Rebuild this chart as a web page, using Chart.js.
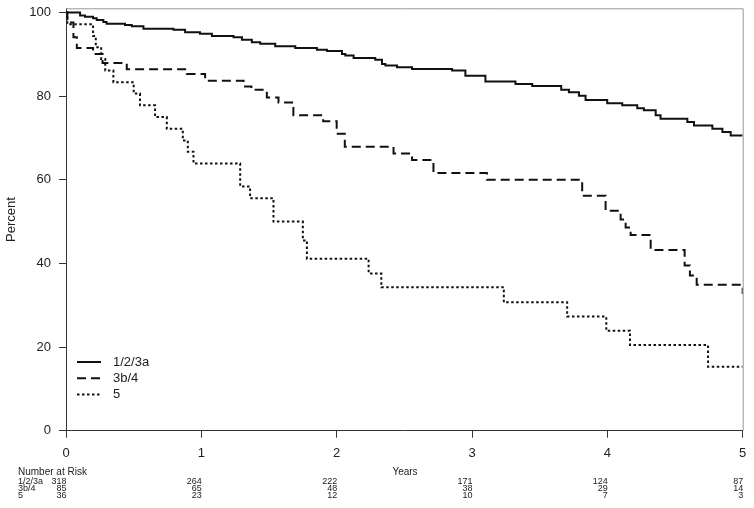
<!DOCTYPE html>
<html>
<head>
<meta charset="utf-8">
<script src="https://cdn.jsdelivr.net/npm/chart.js@4/dist/chart.umd.min.js"></script>
<style>
  html, body { margin: 0; padding: 0; background: #fff; }
  canvas { display: block; }
</style>
</head>
<body>
<canvas id="km" width="754" height="508"></canvas>
<script>
// tick positions
const xTicks = [0, 1, 2, 3, 4, 5];
const yTicks = [0, 20, 40, 60, 80, 100];

// group labels
const grupos = ["1/2/3a", "3b/4", "5"];

// Kaplan-Meier steps (years, percent)
const tiempos1 = [0, 0.104, 0.14, 0.20, 0.227, 0.276, 0.30, 0.436, 0.486, 0.572, 0.794, 0.88, 0.99, 1.078, 1.238, 1.30, 1.373, 1.435, 1.546, 1.694, 1.854, 1.928, 2.039, 2.064, 2.125, 2.285, 2.335, 2.36, 2.446, 2.557, 2.853, 2.951, 3.099, 3.321, 3.445, 3.659, 3.716, 3.79, 3.839, 3.999, 4.11, 4.221, 4.27, 4.357, 4.393, 4.591, 4.64, 4.776, 4.85, 4.911, 5];
const valores1 = [100, 99.3, 99.0, 98.6, 98.2, 97.7, 97.3, 97.0, 96.7, 96.1, 95.9, 95.3, 94.9, 94.4, 94.1, 93.5, 92.9, 92.5, 91.9, 91.5, 91.1, 90.8, 90.1, 89.7, 89.1, 88.7, 87.7, 87.3, 86.9, 86.5, 86.1, 84.9, 83.5, 82.9, 82.4, 81.5, 80.9, 80.1, 79.1, 78.3, 77.8, 77.1, 76.6, 75.4, 74.6, 73.8, 73.0, 72.2, 71.4, 70.6, 70.6];

const tiempos2 = [0, 0.01, 0.055, 0.08, 0.20, 0.27, 0.449, 0.893, 1.028, 1.312, 1.37, 1.484, 1.57, 1.68, 1.90, 2.0, 2.06, 2.42, 2.557, 2.715, 3.11, 3.814, 3.987, 4.098, 4.135, 4.172, 4.32, 4.571, 4.61, 4.66, 5];
const valores2 = [100, 97.6, 94.1, 91.5, 90.1, 87.9, 86.4, 85.3, 83.7, 82.3, 81.5, 79.7, 78.5, 75.4, 74.0, 71.0, 67.9, 66.3, 64.7, 61.6, 60.0, 56.2, 52.6, 50.5, 48.6, 46.8, 43.2, 39.5, 37.1, 34.9, 32.7];

const tiempos3 = [0, 0.01, 0.20, 0.22, 0.26, 0.29, 0.35, 0.50, 0.547, 0.658, 0.745, 0.863, 0.90, 0.942, 1.287, 1.36, 1.533, 1.75, 1.78, 2.236, 2.33, 3.235, 3.703, 3.992, 4.167, 4.744, 5];
const valores3 = [100, 97.2, 94.4, 91.7, 88.9, 86.1, 83.3, 80.6, 77.8, 75.0, 72.2, 69.4, 66.7, 63.9, 58.4, 55.6, 50.0, 45.5, 41.1, 37.6, 34.3, 30.7, 27.3, 23.9, 20.5, 15.3, 15.3];

// number at risk table
const tiemposRiesgo = [0, 1, 2, 3, 4, 5];
const riesgo1 = [318, 264, 222, 171, 124, 87];
const riesgo2 = [85, 65, 48, 38, 29, 14];
const riesgo3 = [36, 23, 12, 10, 7, 3];

const fuente = "'Liberation Sans', Arial, Helvetica, sans-serif";
const estilos = [[], [9, 5], [2.5, 2.5]];

function puntos(ts, vs) {
    return ts.map((t, i) => ({ x: t, y: vs[i] }));
}

const tablaRiesgo = {
    id: "tablaRiesgo",
    afterDraw(chart) {
        const { ctx, chartArea: area, scales: { x } } = chart;
        ctx.save();

        // top and right frame
        ctx.strokeStyle = "#999";
        ctx.lineWidth = 1;
        ctx.beginPath();
        ctx.moveTo(area.left, area.top + 0.5);
        ctx.lineTo(area.right + 0.5, area.top + 0.5);
        ctx.lineTo(area.right + 0.5, area.bottom);
        ctx.stroke();

        // legend
        ctx.strokeStyle = "#111";
        ctx.fillStyle = "#222";
        ctx.lineWidth = 2;
        ctx.font = "13px " + fuente;
        ctx.textBaseline = "middle";
        ctx.textAlign = "left";
        grupos.forEach((g, i) => {
            const y = 362 + i * 16.2;
            ctx.setLineDash(estilos[i]);
            ctx.beginPath();
            ctx.moveTo(77, y);
            ctx.lineTo(101, y);
            ctx.stroke();
            ctx.fillText(g, 113, y);
        });
        ctx.setLineDash([]);

        // number at risk
        ctx.font = "10px " + fuente;
        ctx.fillText("Number at Risk", 18, 472);
        ctx.textAlign = "center";
        ctx.fillText("Years", 405, 472);

        ctx.font = "9px " + fuente;
        const filas = [riesgo1, riesgo2, riesgo3];
        filas.forEach((fila, i) => {
            const y = 482 + i * 6.6;
            ctx.textAlign = "left";
            ctx.fillText(grupos[i], 18, y);
            ctx.textAlign = "right";
            fila.forEach((n, j) => {
                ctx.fillText(String(n), x.getPixelForValue(tiemposRiesgo[j]) + 0.5, y);
            });
        });
        ctx.restore();
    }
};

const ctx = document.getElementById("km");
new Chart(ctx, {
    type: "line",
    data: {
        datasets: [
            { label: grupos[0], data: puntos(tiempos1, valores1), borderDash: estilos[0] },
            { label: grupos[1], data: puntos(tiempos2, valores2), borderDash: estilos[1] },
            { label: grupos[2], data: puntos(tiempos3, valores3), borderDash: estilos[2] }
        ]
    },
    options: {
        responsive: false,
        animation: false,
        layout: { padding: { left: 0, right: 11.3, top: 8.3, bottom: 0 } },
        elements: {
            point: { radius: 0 },
            line: { stepped: true, borderColor: "#111", borderWidth: 2, borderCapStyle: "butt", tension: 0 }
        },
        plugins: {
            legend: { display: false },
            tooltip: { enabled: false }
        },
        scales: {
            x: {
                type: "linear",
                min: 0,
                max: 5,
                afterBuildTicks: (s) => { s.ticks = xTicks.map((v) => ({ value: v })); },
                afterFit: (s) => { s.height = 77.3; s.paddingLeft = 0; s.paddingRight = 0; },
                grid: { drawOnChartArea: false, drawTicks: true, tickLength: 7, color: "#333" },
                border: { display: true, color: "#333", width: 1 },
                ticks: { color: "#222", padding: 8, maxRotation: 0, font: { family: fuente, size: 13 } }
            },
            y: {
                min: 0,
                max: 101,
                afterBuildTicks: (s) => { s.ticks = yTicks.map((v) => ({ value: v })); },
                afterFit: (s) => { s.width = 66; s.paddingTop = 0; s.paddingBottom = 0; },
                grid: { drawOnChartArea: false, drawTicks: true, tickLength: 7, color: "#333" },
                border: { display: true, color: "#333", width: 1 },
                ticks: { color: "#222", padding: 8, font: { family: fuente, size: 13 } },
                title: { display: true, text: "Percent", color: "#222", padding: { top: 4, bottom: 0 }, font: { family: fuente, size: 13 } }
            }
        }
    },
    plugins: [tablaRiesgo]
});
</script>
</body>
</html>
